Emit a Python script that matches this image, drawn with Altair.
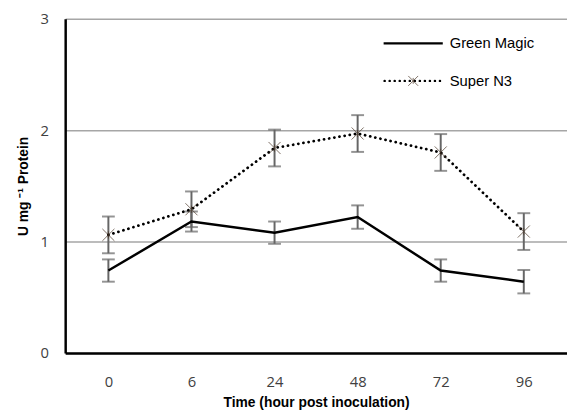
import altair as alt
import pandas as pd

times = ["0", "6", "24", "48", "72", "96"]
series_names = ["Green Magic", "Super N3"]
gm_mean = [0.74, 1.18, 1.08, 1.22, 0.74, 0.64]
gm_err = [0.10, 0.09, 0.10, 0.105, 0.10, 0.105]
sn_mean = [1.06, 1.29, 1.84, 1.97, 1.80, 1.09]
sn_err = [0.165, 0.16, 0.165, 0.165, 0.165, 0.165]

rows = []
for name, means, errs in [(series_names[0], gm_mean, gm_err), (series_names[1], sn_mean, sn_err)]:
    for t, m, e in zip(times, means, errs):
        rows.append({"time": t, "series": name, "value": m, "lo": m - e, "hi": m + e})
df = pd.DataFrame(rows)

W, H = 509, 339
xscale = alt.Scale(type="point", padding=0.52)
xaxis = alt.Axis(title="Time (hour post inoculation)", labelAngle=0, ticks=False,
                 domainColor="black", domainWidth=2.5, labelPadding=22,
                 labelFontSize=15, labelColor="#404040", labelFont="Open Sans",
                 titleFont="Liberation Sans", titleFontSize=14, titleFontWeight="bold",
                 titleColor="black", titlePadding=6, grid=False)
x = alt.X("time:N", sort=times, scale=xscale, axis=xaxis)
yscale = alt.Scale(domain=[0, 3], nice=False)
yaxis = alt.Axis(title="U mg \u207b\u00b9 Protein", values=[0, 1, 2, 3], format="d", ticks=False,
                 grid=True, gridColor="#a6a6a6", gridWidth=1.5,
                 domainColor="black", domainWidth=2.5, labelPadding=17,
                 labelFontSize=15, labelColor="#404040", labelFont="Open Sans",
                 titleFont="Liberation Sans", titleFontSize=14, titleFontWeight="bold",
                 titleColor="black", titlePadding=10)


def Y(field):
    return alt.Y(field, scale=yscale, axis=yaxis)


base = alt.Chart(df)

err_rule = base.mark_rule(color="#666666", strokeWidth=2).encode(
    x=x, y=Y("lo:Q"), y2="hi:Q")
cap_lo = base.mark_tick(color="#666666", size=13, thickness=2).encode(x=x, y=Y("lo:Q"))
cap_hi = base.mark_tick(color="#666666", size=13, thickness=2).encode(x=x, y=Y("hi:Q"))

gm_line = base.transform_filter(alt.datum.series == "Green Magic").mark_line(
    color="black", strokeWidth=2.5).encode(x=x, y=Y("value:Q"))
sn_line = base.transform_filter(alt.datum.series == "Super N3").mark_line(
    color="black", strokeWidth=2.8, strokeDash=[0.1, 5.2], strokeCap="round").encode(
    x=x, y=Y("value:Q"))

star = "M-1,-1L1,1M-1,1L1,-1M0,-0.6L0,0.6"
sn_marker = base.transform_filter(alt.datum.series == "Super N3").mark_point(
    shape=star, size=150, filled=False, stroke="#4a3728", strokeWidth=1).encode(
    x=x, y=Y("value:Q"))

# legend
leg_df1 = pd.DataFrame({"s": [series_names[0]]})
leg_df2 = pd.DataFrame({"s": [series_names[1]]})
leg_gm_line = alt.Chart(leg_df1).mark_rule(color="black", strokeWidth=2.2).encode(
    x=alt.value(323), x2=alt.value(383), y=alt.value(25))
leg_gm_text = alt.Chart(leg_df1).mark_text(
    align="left", baseline="middle", font="Liberation Sans", fontSize=15, color="black").encode(
    x=alt.value(390), y=alt.value(25), text="s:N")
leg_sn_line = alt.Chart(leg_df2).mark_rule(
    color="black", strokeWidth=2.5, strokeDash=[0.1, 5], strokeCap="round").encode(
    x=alt.value(324), x2=alt.value(383), y=alt.value(63))
leg_sn_mark = alt.Chart(leg_df2).mark_point(
    shape=star, size=100, filled=False, stroke="#4a3728", strokeWidth=1).encode(
    x=alt.value(353), y=alt.value(63))
leg_sn_text = alt.Chart(leg_df2).mark_text(
    align="left", baseline="middle", font="Liberation Sans", fontSize=15, color="black").encode(
    x=alt.value(390), y=alt.value(63), text="s:N")

chart = alt.layer(err_rule, cap_lo, cap_hi, gm_line, sn_line, sn_marker,
                  leg_gm_line, leg_gm_text, leg_sn_line, leg_sn_mark, leg_sn_text).properties(
    width=W, height=H, autosize=alt.AutoSizeParams(type="none"),
    padding={"left": 58, "top": 8, "right": 0, "bottom": 62},
).configure_view(stroke=None)

chart.save("out.html", embed_options={"renderer": "svg", "actions": False})
